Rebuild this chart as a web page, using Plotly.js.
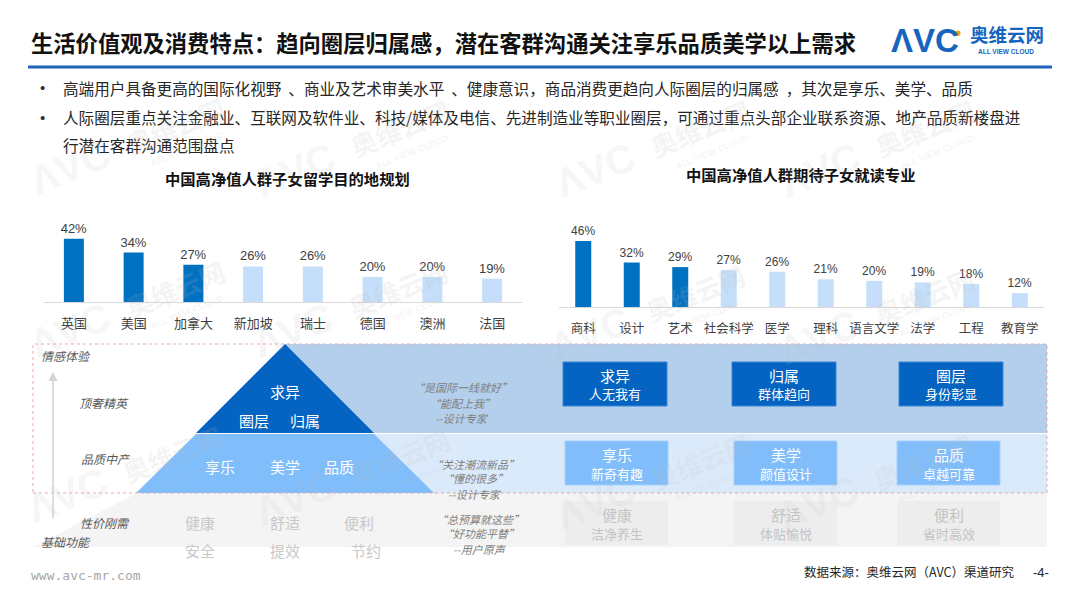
<!DOCTYPE html>
<html><head><meta charset="utf-8">
<script src="https://cdn.plot.ly/plotly-3.0.1.min.js"></script>
<style>html,body{margin:0;padding:0;background:#fff;}#chart{width:1080px;height:607px;}</style>
</head><body><div id="chart"></div>
<script>
// ---------- data ----------
const destCategories = ['英国','美国','加拿大','新加坡','瑞士','德国','澳洲','法国'];
const destValues = [42,34,27,26,26,20,20,19];
const majorCategories = ['商科','设计','艺术','社会科学','医学','理科','语言文学','法学','工程','教育学'];
const majorValues = [46,32,29,27,26,21,20,19,18,12];
const highlightCount = 3;

const titleText = '生活价值观及消费特点：趋向圈层归属感，潜在客群沟通关注享乐品质美学以上需求';
const bullets = [
  '高端用户具备更高的国际化视野  、商业及艺术审美水平  、健康意识，商品消费更趋向人际圈层的归属感  ，其次是享乐、美学、品质',
  '人际圈层重点关注金融业、互联网及软件业、科技/媒体及电信、先进制造业等职业圈层，可通过重点头部企业联系资源、地产品质新楼盘进',
  '行潜在客群沟通范围盘点'
];
const chart1Title = '中国高净值人群子女留学目的地规划';
const chart2Title = '中国高净值人群期待子女就读专业';
const levelLabels = ['情感体验','顶奢精英','品质中产','性价刚需','基础功能'];
const pyramidTop = ['求异','圈层','归属'];
const pyramidMid = ['享乐','美学','品质'];
const pyramidBase = ['健康','舒适','便利','安全','提效','节约'];
const quotes1 = ['“是国际一线就好”','“能配上我”','--设计专家'];
const quotes2 = ['“关注潮流新品”','“懂的很多”','--设计专家'];
const quotes3 = ['“总预算就这些”','“好功能平替”','--用户原声'];
const row1Titles = ['求异','归属','圈层'];
const row1Subs = ['人无我有','群体趋向','身份彰显'];
const row2Titles = ['享乐','美学','品质'];
const row2Subs = ['新奇有趣','颜值设计','卓越可靠'];
const row3Titles = ['健康','舒适','便利'];
const row3Subs = ['洁净养生','体贴愉悦','省时高效'];
const sourceText = '数据来源：奥维云网（AVC）渠道研究';
const pageNo = '-4-';
const siteText = 'www.avc-mr.com';

// ---------- helpers ----------
const W = 1080, H = 607;
const X = p => p / W, Y = p => 1 - p / H;
const CJK = '"Noto Sans CJK SC", "Microsoft YaHei", sans-serif';
const LAT = '"Liberation Sans", Arial, sans-serif';
const DARK = '#0070c0', LIGHT = '#c5dffa';
const ann = [];
function txt(text, x, y, size, color, o) {
  o = o || {};
  ann.push({
    text: text, x: X(x), y: Y(y), xref: 'paper', yref: 'paper', showarrow: false,
    xanchor: o.anchor || 'center', yanchor: 'middle', textangle: o.angle || 0, borderpad: 0,
    font: {family: o.family || CJK, size: size, color: color, weight: o.weight || 400, style: o.style || 'normal'}
  });
}
const shapes = [];
function rect(x0, y0, x1, y1, fill, line, lw, dash) {
  shapes.push({type: 'rect', xref: 'paper', yref: 'paper', x0: X(x0), x1: X(x1), y0: Y(y1), y1: Y(y0),
    fillcolor: fill, line: {color: line || 'rgba(0,0,0,0)', width: lw || 0, dash: dash || 'solid'}, layer: 'below'});
}
function poly(pts, fill) {
  const d = pts.map((p, i) => (i ? 'L' : 'M') + X(p[0]) + ',' + Y(p[1])).join(' ') + ' Z';
  shapes.push({type: 'path', xref: 'paper', yref: 'paper', path: d, fillcolor: fill, line: {width: 0}, layer: 'below'});
}

// ---------- header ----------
txt(titleText, 30, 42, 22.3, '#111', {anchor: 'left', weight: 700});
shapes.push({type: 'line', xref: 'paper', yref: 'paper', x0: X(28), x1: X(1052), y0: Y(67), y1: Y(67), line: {color: '#1f64b8', width: 3}});
txt('ΛVC', 925, 41, 33, '#1565c0', {weight: 700, family: LAT});
shapes.push({type: 'circle', xref: 'paper', yref: 'paper', x0: X(955), x1: X(960.5), y0: Y(36), y1: Y(30.5), fillcolor: '#f39c12', line: {width: 0}});
txt('奥维云网', 1007, 33.5, 18.5, '#1565c0', {weight: 700});
txt('ALL VIEW CLOUD', 1006, 51.5, 6.5, '#1565c0', {weight: 700, family: LAT});

const bulletY = [88, 117, 145];
bullets.forEach((b, i) => {
  if (i < 2) txt('•', 42, bulletY[i], 15, '#333', {family: LAT});
  txt(b, 62, bulletY[i], 15.6, '#262626', {anchor: 'left'});
});

txt(chart1Title, 287, 178, 15.3, '#111', {weight: 700});
txt(chart2Title, 800, 174, 15.3, '#111', {weight: 700});

// ---------- pyramid section ----------
rect(285, 344, 1047, 433, '#b4cfeb');
rect(285, 434, 1047, 493, '#dbeafb');
poly([[137, 493], [1047, 493], [1047, 547], [33, 547]], '#f4f4f4');
poly([[285, 344], [374, 433], [196, 433]], '#0563c1');
poly([[196, 434], [374, 434], [434, 493], [136, 493]], '#80bdfb');
shapes.push({type: 'rect', xref: 'paper', yref: 'paper', x0: X(33), x1: X(1047), y0: Y(493), y1: Y(344),
  fillcolor: 'rgba(0,0,0,0)', line: {color: '#f4a3a3', width: 1, dash: 'dot'}, layer: 'above'});

// boxes
const boxX = [[563, 667], [732, 836], [899, 1003]];
const boxX2 = [[565, 668], [734, 837], [897, 1000]];
boxX.forEach((b, i) => {
  rect(b[0], 362, b[1], 406, '#0563c1', '#3a86d4', 1);
  txt(row1Titles[i], (b[0] + b[1]) / 2, 375, 15, '#fff');
  txt(row1Subs[i], (b[0] + b[1]) / 2, 393.5, 13, '#fff');
});
boxX2.forEach((b, i) => {
  rect(b[0], 441, b[1], 485, '#80bdfa', '#a6d0fb', 1);
  txt(row2Titles[i], (b[0] + b[1]) / 2, 454, 15, '#fff');
  txt(row2Subs[i], (b[0] + b[1]) / 2, 473, 13, '#fff');
  rect(b[0], 501, b[1], 545, '#ededed');
  txt(row3Titles[i], (b[0] + b[1]) / 2, 514, 15, '#c4c4c4');
  txt(row3Subs[i], (b[0] + b[1]) / 2, 533, 13, '#c4c4c4');
});

// left axis
ann.push({x: X(53), y: Y(372), xref: 'paper', yref: 'paper', ax: 0, ay: 148, axref: 'pixel', ayref: 'pixel',
  showarrow: true, arrowhead: 2, arrowsize: 1.2, arrowwidth: 1.5, arrowcolor: '#d4d4d4', text: ''});
const levelPos = [[66, 355], [104, 402], [105, 458], [105, 522], [66, 541]];
levelLabels.forEach((l, i) => txt(l, levelPos[i][0], levelPos[i][1], 12, '#595959', {style: 'italic'}));

// pyramid texts
txt(pyramidTop[0], 285, 391, 15, '#fff');
txt(pyramidTop[1], 254, 420, 15, '#fff');
txt(pyramidTop[2], 305, 420, 15, '#fff');
[220, 285, 339].forEach((x, i) => txt(pyramidMid[i], x, 466, 15, '#fff'));
[[200, 522], [285, 522], [359, 522], [200, 550], [285, 550], [366, 550]].forEach((p, i) =>
  txt(pyramidBase[i], p[0], p[1], 15, '#c8c8c8'));

// quotes
[[quotes1, 462, [387, 403, 418]], [quotes2, 475, [464, 478, 494]], [quotes3, 480, [519, 533, 549]]].forEach(g => {
  g[0].forEach((q, i) => txt(q, g[1], g[2][i], 11, '#7f7f7f', {style: 'italic'}));
});

// footer
txt(siteText, 30, 575, 13, '#a6a6a6', {anchor: 'left', family: '"DejaVu Sans Mono", "Liberation Mono", monospace'});
txt(sourceText, 803, 571, 12.5, '#262626', {anchor: 'left'});
txt(pageNo, 1041, 572, 13, '#262626', {family: LAT});

// watermarks
const wm = [[175, 125], [400, 128], [700, 128], [925, 128], [175, 288], [398, 288], [695, 292], [924, 295], [172, 453], [400, 456], [700, 460], [923, 461]];
wm.forEach(p => {
  txt('奥维云网', p[0], p[1], 26, 'rgba(190,190,190,0.16)', {angle: -22, weight: 700});
  txt('ALL VIEW CLOUD', p[0] + 12, p[1] + 24, 9, 'rgba(190,190,190,0.16)', {angle: -22, weight: 700, family: LAT});
  txt('ΛVC', p[0] - 105, p[1] + 42, 40, 'rgba(190,190,190,0.14)', {angle: -22, weight: 700, family: LAT});
});

// ---------- bar traces ----------
const colorsFor = arr => arr.map((_, i) => i < highlightCount ? DARK : LIGHT);
const barCommon = {type: 'bar', texttemplate: '%{y}%', textposition: 'outside', cliponaxis: false,
  constraintext: 'none', hoverinfo: 'skip'};
const traces = [
  Object.assign({}, barCommon, {x: destCategories, y: destValues, xaxis: 'x', yaxis: 'y',
    marker: {color: colorsFor(destValues), line: {width: 0}}, width: 0.335,
    textfont: {family: LAT, size: 13, color: '#404040'}}),
  Object.assign({}, barCommon, {x: majorCategories, y: majorValues, xaxis: 'x2', yaxis: 'y2',
    marker: {color: colorsFor(majorValues), line: {width: 0}}, width: 0.33,
    textfont: {family: LAT, size: 12, color: '#404040'}})
];

const xCommon = {showline: true, linecolor: '#d9d9d9', linewidth: 1, ticks: 'outside', tickcolor: 'rgba(0,0,0,0)',
  showgrid: false, zeroline: false, fixedrange: true, type: 'category'};
const layout = {
  width: W, height: 607, margin: {l: 0, r: 0, t: 0, b: 0}, paper_bgcolor: '#fff', plot_bgcolor: 'rgba(0,0,0,0)',
  showlegend: false, font: {family: CJK},
  xaxis: Object.assign({}, xCommon, {domain: [X(44), X(522)], anchor: 'y', ticklen: 9,
    tickfont: {family: CJK, size: 13, color: '#404040'}}),
  yaxis: {domain: [Y(302), Y(224.7)], range: [5.6, 50], visible: false, fixedrange: true},
  xaxis2: Object.assign({}, xCommon, {domain: [X(559), X(1044)], anchor: 'y2', ticklen: 10,
    tickfont: {family: CJK, size: 12.5, color: '#404040'}}),
  yaxis2: {domain: [Y(307), Y(235)], range: [2.9, 50], visible: false, fixedrange: true},
  shapes: shapes, annotations: ann
};
Plotly.newPlot('chart', traces, layout, {displayModeBar: false, staticPlot: true});
</script></body></html>
